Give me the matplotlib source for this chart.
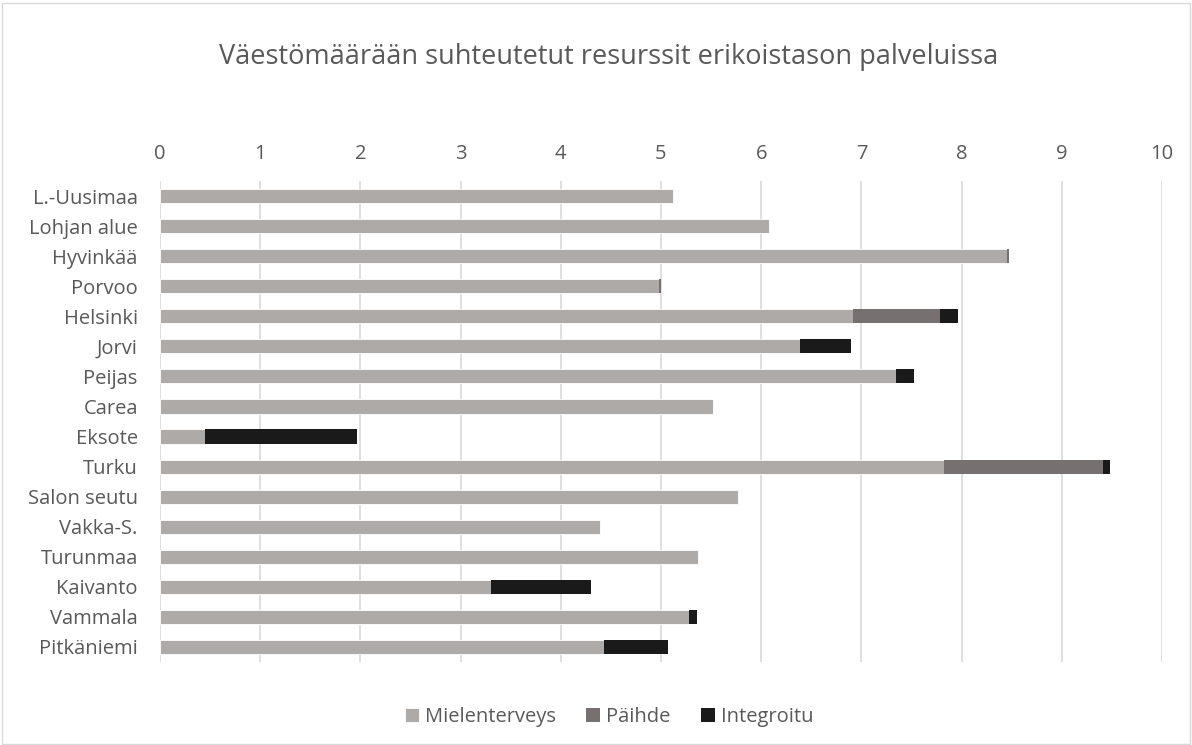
import matplotlib
matplotlib.use("Agg")
import matplotlib.pyplot as plt
from matplotlib.patches import Rectangle

categories = ["L.-Uusimaa", "Lohjan alue", "Hyvinkää", "Porvoo", "Helsinki", "Jorvi",
              "Peijas", "Carea", "Eksote", "Turku", "Salon seutu", "Vakka-S.",
              "Turunmaa", "Kaivanto", "Vammala", "Pitkäniemi"]
mielenterveys = [5.12, 6.08, 8.45, 4.98, 6.92, 6.39, 7.35, 5.52, 0.45, 7.82, 5.77, 4.39,
                 5.37, 3.30, 5.28, 4.43]
paihde = [0, 0, 0.02, 0.02, 0.86, 0, 0, 0, 0, 1.59, 0, 0, 0, 0, 0, 0]
integroitu = [0, 0, 0, 0, 0.18, 0.51, 0.17, 0, 1.52, 0.07, 0, 0, 0, 1.00, 0.08, 0.64]
series_names = ["Mielenterveys", "Päihde", "Integroitu"]
title = "Väestömäärään suhteutetut resurssit erikoistason palveluissa"
xticks = list(range(0, 11))

plt.rcParams['font.family'] = ['Open Sans', 'DejaVu Sans']
fig = plt.figure(figsize=(11.92, 7.45), dpi=100)
ax = fig.add_axes([160/1192, 1 - 662/745, (1162-160)/1192, (662-181)/745])

colors = ["#AEAAA8", "#767170", "#1A1A1A"]
y = list(range(len(categories)))
h = 0.47
left2 = mielenterveys
left3 = [a + b for a, b in zip(mielenterveys, paihde)]
ax.barh(y, mielenterveys, height=h, color=colors[0], label=series_names[0],
        edgecolor="white", linewidth=0.6, zorder=3)
ax.barh(y, paihde, left=left2, height=h, color=colors[1], label=series_names[1],
        edgecolor="white", linewidth=0.0, zorder=3)
ax.barh(y, integroitu, left=left3, height=h, color=colors[2], label=series_names[2],
        edgecolor="white", linewidth=0.0, zorder=3)

ax.set_xlim(0, 10)
ax.set_ylim(len(categories) - 0.5, -0.5)
ax.set_xticks(xticks)
ax.xaxis.tick_top()
ax.tick_params(axis='x', length=0, labelsize=14.5, labelcolor="#595959", pad=12)
ax.tick_params(axis='y', length=0, labelsize=14.5, labelcolor="#595959", pad=16)
ax.set_yticks(y)
ax.set_yticklabels(categories)
ax.grid(axis='x', color="#D9D9D9", linewidth=1.2, zorder=0)
for s in ax.spines.values():
    s.set_visible(False)

fig.text(0.511, 1 - 57/745, title, ha='center', va='center', fontsize=19.5, color="#595959")

handles, labels = ax.get_legend_handles_labels()
fig.legend(handles, labels, loc='center', bbox_to_anchor=(0.511, 1 - 717/745), ncol=3,
           frameon=False, fontsize=14.5, labelcolor="#595959", handlelength=0.7,
           handleheight=0.7, handletextpad=0.3, columnspacing=1.5)

fig.patches.append(Rectangle((0.002, 0.002), 0.996, 0.994, transform=fig.transFigure,
                             fill=False, edgecolor="#D9D9D9", linewidth=1.0))

fig.savefig("out.png", dpi=100)
